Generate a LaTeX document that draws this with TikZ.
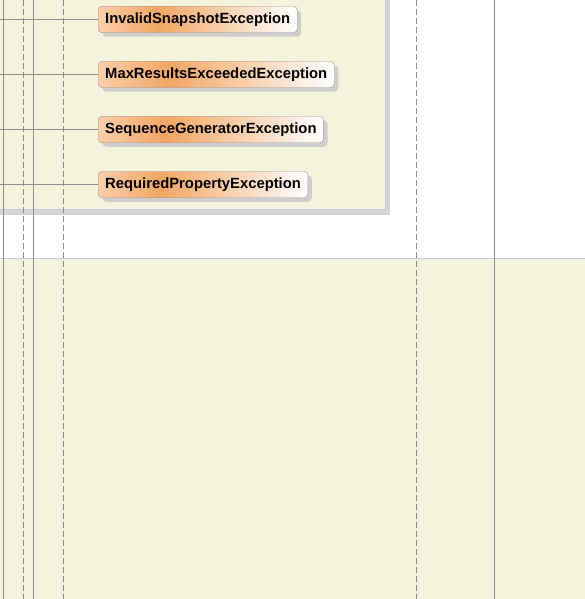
\documentclass[tikz,border=0pt]{standalone}
\usepackage{fontspec}
\setsansfont{Liberation Sans}
\usepackage{xcolor}
\usetikzlibrary{shadows}

\definecolor{panelbg}{RGB}{244,244,220}
\definecolor{panelshadow}{RGB}{212,212,212}
\definecolor{panelborder}{RGB}{196,200,222}
\definecolor{sepline}{RGB}{196,200,222}
\definecolor{lifeline}{RGB}{140,140,140}
\definecolor{excpeach}{RGB}{250,206,170}
\definecolor{excorange}{RGB}{243,166,100}
\definecolor{excborder}{RGB}{150,150,150}
\definecolor{excshadow}{RGB}{206,206,206}

\pgfdeclarehorizontalshading{excshade}{100bp}{color(0bp)=(excpeach); color(25bp)=(excpeach); color(40bp)=(excorange); color(75bp)=(white); color(100bp)=(white)}

\tikzset{
    exc/.style={rounded corners=4pt, draw=excborder, shading=excshade, anchor=west,
        font=\sffamily\bfseries\fontsize{14.8}{16}\selectfont, text=black,
        inner xsep=7pt, minimum height=26.5pt,
        drop shadow={shadow xshift=4pt, shadow yshift=-4pt, fill=excshadow, opacity=1}},
    link/.style={draw=lifeline, line width=1pt},
    solidlife/.style={draw=lifeline, line width=1pt},
    dashlife/.style={draw=lifeline, line width=1pt, dash pattern=on 6pt off 3pt}
}

\begin{document}
\begin{tikzpicture}[x=1pt,y=-1pt]
    \useasboundingbox (0,0) rectangle (585,599);
    \fill[white] (0,0) rectangle (585,599);
    % lower fragment
    \fill[panelbg] (0,258) rectangle (585,599);
    \draw[sepline, line width=1pt] (0,258.5) -- (585,258.5);
    % upper fragment with shadow
    \fill[panelshadow] (0,-10) rectangle (390,215);
    \fill[panelbg] (0,-10) rectangle (385,210);
    \draw[panelborder, line width=1pt] (0,209.5) -- (385.5,209.5) -- (385.5,-10);
    % lifelines
    \draw[solidlife] (3.5,0) -- (3.5,599);
    \draw[dashlife] (23.5,0) -- (23.5,599);
    \draw[solidlife] (33.5,0) -- (33.5,599);
    \draw[dashlife] (63.5,0) -- (63.5,599);
    \draw[dashlife] (416.5,0) -- (416.5,599);
    \draw[solidlife] (494.5,0) -- (494.5,599);
    % exceptions
    \node[exc] (invalid) at (98,19.5) {InvalidSnapshotException};
    \node[exc] (maxres) at (98,74.5) {MaxResultsExceededException};
    \node[exc] (seqgen) at (98,129.5) {SequenceGeneratorException};
    \node[exc] (reqprop) at (98,184.5) {RequiredPropertyException};
    \coordinate (invalidin) at (0,19.5);
    \coordinate (maxresin) at (0,74.5);
    \coordinate (seqgenin) at (0,129.5);
    \coordinate (reqpropin) at (0,184.5);
    \draw[link] (invalidin) -- (invalid.west);
    \draw[link] (maxresin) -- (maxres.west);
    \draw[link] (seqgenin) -- (seqgen.west);
    \draw[link] (reqpropin) -- (reqprop.west);
\end{tikzpicture}
\end{document}
